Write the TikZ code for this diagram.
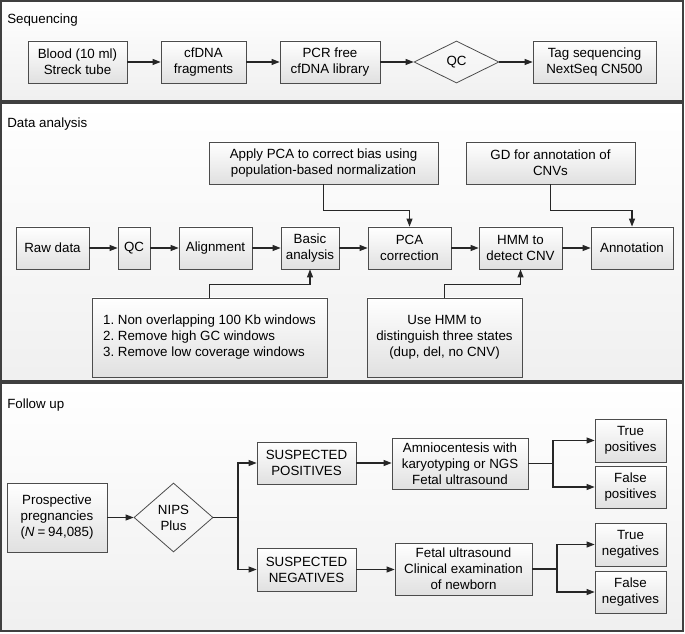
\documentclass[tikz,border=0pt]{standalone}
\usepackage{fontspec}
\setmainfont{Liberation Sans}
\usetikzlibrary{shapes.geometric,arrows.meta,shadows,calc}
\frenchspacing
\begin{document}
\begin{tikzpicture}[x=0.75pt,y=-0.75pt,
  font=\fontsize{10}{12}\selectfont,
  panel/.style={draw=black!75,line width=1.1pt,top color=white,bottom color=black!6},
  bx/.style 2 args={draw=black!70,line width=0.6pt,top color=white,bottom color=black!12,
    minimum width={#1*0.75pt},minimum height={#2*0.75pt},inner sep=1pt,align=center,
    drop shadow={shadow xshift=0.9pt,shadow yshift=-0.9pt,opacity=0.3,fill=black}},
  dm/.style 2 args={draw=black!70,line width=0.6pt,shape=diamond,inner sep=0pt,align=center,
    minimum width={#1*0.75pt},minimum height={#2*0.75pt}},
  lbl/.style={anchor=west,inner sep=0pt},
  arr/.style={-{Triangle[length=6pt,width=4.5pt]},line width=0.8pt,draw=black!85},
  ln/.style={line width=0.8pt,draw=black!85}]
\useasboundingbox (0,0) rectangle (685,634);
% panels
\path[panel] (1,1) rectangle (683,101);
\path[panel] (1,103) rectangle (683,381);
\path[panel] (1,383) rectangle (683,631);

% ---------- Sequencing ----------
\node[lbl] (t1) at (7,20) {Sequencing};
\node[bx={99}{42}] (blood) at (77.5,62) {Blood (10 ml)\\Streck tube};
\node[bx={85}{42}] (frag) at (203.5,62) {cfDNA\\fragments};
\node[bx={100}{42}] (lib) at (330,62) {PCR free\\cfDNA library};
\node[dm={85}{42}] (qca) at (456.5,62) {QC};
\node[bx={123}{42}] (tag) at (594.5,62) {Tag sequencing\\NextSeq CN500};
\draw[arr] (blood) -- (frag);
\draw[arr] (frag) -- (lib);
\draw[arr] (lib) -- (qca);
\draw[arr] (qca) -- (tag);

% ---------- Data analysis ----------
\node[lbl] (t2) at (7,124) {Data analysis};
\node[bx={229}{42}] (apply) at (323.5,163) {Apply PCA to correct bias using\\population-based normalization};
\node[bx={169}{42}] (gd) at (550.5,163) {GD for annotation of\\CNVs};
\node[bx={73}{42}] (raw) at (52.5,248) {Raw data};
\node[bx={32}{42}] (qcb) at (134,248) {QC};
\node[bx={73}{42}] (aln) at (215.5,248) {Alignment};
\node[bx={58}{42}] (basic) at (310,248) {Basic\\analysis};
\node[bx={83}{42}] (pcac) at (409.5,248) {PCA\\correction};
\node[bx={83}{42}] (hmm) at (520.5,248) {HMM to\\detect CNV};
\node[bx={82}{42}] (annot) at (632,248) {Annotation};
\node[bx={235}{79},align=left] (list) at (209.5,337.5) {1. Non overlapping 100 Kb windows\\2. Remove high GC windows\\3. Remove low coverage windows};
\node[bx={155}{79}] (use) at (444.5,337.5) {Use HMM to\\distinguish three states\\(dup, del, no CNV)};
\draw[arr] (raw) -- (qcb);
\draw[arr] (qcb) -- (aln);
\draw[arr] (aln) -- (basic);
\draw[arr] (basic) -- (pcac);
\draw[arr] (pcac) -- (hmm);
\draw[arr] (hmm) -- (annot);
\draw[arr] (apply.south) -- ++(0,26) -| (pcac.north);
\draw[arr] (gd.south) -- ++(0,26) -| (annot.north);
\draw[arr] (list.north) -- ++(0,-13) -| (basic.south);
\draw[arr] (use.north) -- ++(0,-13) -| (hmm.south);

% ---------- Follow up ----------
\node[lbl] (t3) at (7,405) {Follow up};
\node[bx={100}{69}] (pros) at (57,517.5) {Prospective\\pregnancies\\(\textit{N}\hspace{0.22em}=\hspace{0.22em}94,085)};
\node[dm={79}{69}] (nips) at (173.5,517.5) {NIPS\\Plus};
\node[bx={99}{42}] (spos) at (306.5,463) {SUSPECTED\\POSITIVES};
\node[bx={99}{43}] (sneg) at (306.5,569.5) {SUSPECTED\\NEGATIVES};
\node[bx={136}{51}] (amnio) at (460,463.5) {Amniocentesis with\\karyotyping or NGS\\Fetal ultrasound};
\node[bx={137}{52}] (fet) at (463.5,569) {Fetal ultrasound\\Clinical examination\\of newborn};
\node[bx={71}{43}] (tp) at (630.5,440.5) {True\\positives};
\node[bx={71}{42}] (fp) at (630.5,487) {False\\positives};
\node[bx={71}{43}] (tn) at (630.5,544.5) {True\\negatives};
\node[bx={71}{42}] (fn) at (630.5,592) {False\\negatives};
\coordinate (b1) at (238,517.5);
\coordinate (b2) at (553,463.5);
\coordinate (b3) at (557,569);
\draw[arr] (pros) -- (nips);
\draw[ln] (nips.east) -- (b1);
\draw[arr] (b1) |- (spos.west);
\draw[arr] (b1) |- (sneg.west);
\draw[arr] (spos) -- (amnio.west |- spos.east);
\draw[arr] (sneg) -- (fet.west |- sneg.east);
\draw[ln] (amnio.east) -- (b2);
\draw[arr] (b2) |- (tp.west);
\draw[arr] (b2) |- (fp.west);
\draw[ln] (fet.east) -- (b3);
\draw[arr] (b3) |- (tn.west);
\draw[arr] (b3) |- (fn.west);
\end{tikzpicture}
\end{document}
